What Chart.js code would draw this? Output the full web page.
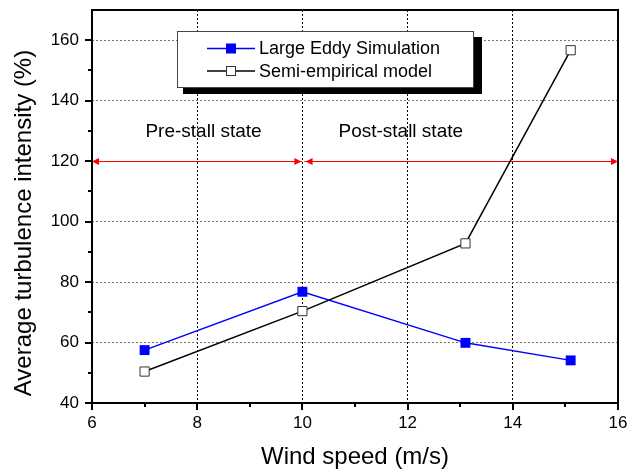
<!DOCTYPE html>
<html>
<head>
<meta charset="utf-8">
<script src="https://cdn.jsdelivr.net/npm/chart.js@4.4.1/dist/chart.umd.min.js"></script>
<style>
  html, body { margin: 0; padding: 0; background: #fff; }
  canvas { display: block; }
</style>
</head>
<body>
<canvas id="chart" width="637" height="473"></canvas>
<script>
// wind speed (m/s) vs average turbulence intensity (%)
const lesWind = [7, 10, 13.1, 15.1];
const lesValues = [57.5, 76.8, 59.9, 54.1];
const semiWind = [7, 10, 13.1, 15.1];
const semiValues = [50.4, 70.4, 92.8, 156.7];

const xTicks = [6, 8, 10, 12, 14, 16];
const yTicks = [40, 60, 80, 100, 120, 140, 160];

// stall regions (axis units)
const stallLevel = 120;
const preStall = [6, 9.98];
const postStall = [10.06, 16];
const stallLabels = ['Pre-stall state', 'Post-stall state'];
const stallLabelX = [8.12, 11.87];
const stallLabelY = 129.7;

const FONT = "'Liberation Sans', Arial, sans-serif";

function arrowHead(ctx, tipX, y, dir) {
  ctx.beginPath();
  ctx.moveTo(tipX, y);
  ctx.lineTo(tipX - dir * 7, y - 3.5);
  ctx.lineTo(tipX - dir * 7, y + 3.5);
  ctx.closePath();
  ctx.fill();
}

function marker(ctx, ds, cx, cy) {
  const s = 10;
  ctx.fillStyle = ds.pointBackgroundColor;
  ctx.fillRect(cx - s / 2, cy - s / 2, s, s);
  if (ds.pointBorderWidth > 0) {
    ctx.strokeStyle = ds.pointBorderColor;
    ctx.lineWidth = 1;
    ctx.strokeRect(cx - s / 2 + 0.5, cy - s / 2 + 0.5, s - 1, s - 1);
  }
}

const extras = {
  id: 'extras',
  beforeDatasetsDraw(chart) {
    const ctx = chart.ctx;
    const x = chart.scales.x, y = chart.scales.y;
    const yy = Math.round(y.getPixelForValue(stallLevel)) + 0.5;
    ctx.save();
    ctx.strokeStyle = '#ff0000';
    ctx.fillStyle = '#ff0000';
    ctx.lineWidth = 1;
    [preStall, postStall].forEach(r => {
      const x1 = x.getPixelForValue(r[0]), x2 = x.getPixelForValue(r[1]);
      ctx.beginPath();
      ctx.moveTo(x1, yy);
      ctx.lineTo(x2, yy);
      ctx.stroke();
      arrowHead(ctx, x1, yy, -1);
      arrowHead(ctx, x2, yy, 1);
    });
    ctx.fillStyle = '#000';
    ctx.font = '19px ' + FONT;
    ctx.textAlign = 'center';
    ctx.textBaseline = 'middle';
    stallLabels.forEach((t, i) => {
      ctx.fillText(t, x.getPixelForValue(stallLabelX[i]), y.getPixelForValue(stallLabelY));
    });

    // y axis title, sits a bit below the middle of the axis
    ctx.save();
    ctx.translate(24, 223);
    ctx.rotate(-Math.PI / 2);
    ctx.font = '24px ' + FONT;
    ctx.fillText(chart.options.scales.y.title.text, 0, 0);
    ctx.restore();
    ctx.restore();
  },
  afterDatasetsDraw(chart) {
    const ctx = chart.ctx;
    const a = chart.chartArea;
    const x = chart.scales.x, y = chart.scales.y;
    ctx.save();
    // frame
    ctx.strokeStyle = '#000';
    ctx.lineWidth = 2;
    ctx.strokeRect(a.left, a.top, a.right - a.left, a.bottom - a.top);
    // tick marks, outward
    ctx.beginPath();
    x.ticks.forEach(t => {
      const px = Math.round(x.getPixelForValue(t.value));
      const len = xTicks.includes(t.value) ? 7 : 4;
      ctx.moveTo(px, a.bottom);
      ctx.lineTo(px, a.bottom + len);
    });
    y.ticks.forEach(t => {
      if (t.value > 160) return;
      const py = Math.round(y.getPixelForValue(t.value));
      const len = yTicks.includes(t.value) ? 7 : 4;
      ctx.moveTo(a.left, py);
      ctx.lineTo(a.left - len, py);
    });
    ctx.stroke();

    // legend box with shadow
    const L = { left: 177, top: 31, right: 474, bottom: 88 };
    ctx.fillStyle = '#000';
    ctx.fillRect(L.left + 6, L.top + 6, L.right - L.left + 2, L.bottom - L.top);
    ctx.fillStyle = '#fff';
    ctx.fillRect(L.left, L.top, L.right - L.left, L.bottom - L.top);
    ctx.strokeStyle = '#444';
    ctx.lineWidth = 1;
    ctx.strokeRect(L.left + 0.5, L.top + 0.5, L.right - L.left - 1, L.bottom - L.top - 1);
    const rows = [48.5, 71];
    chart.data.datasets.forEach((ds, i) => {
      const ry = rows[i];
      ctx.strokeStyle = ds.borderColor;
      ctx.lineWidth = ds.borderWidth;
      ctx.beginPath();
      ctx.moveTo(207, ry);
      ctx.lineTo(255, ry);
      ctx.stroke();
      marker(ctx, ds, 231, ry);
      ctx.fillStyle = '#000';
      ctx.font = '18px ' + FONT;
      ctx.textAlign = 'left';
      ctx.textBaseline = 'middle';
      ctx.fillText(ds.label, 259, ry + 1);
    });
    ctx.restore();
  }
};

new Chart(document.getElementById('chart'), {
  type: 'line',
  data: {
    datasets: [
      {
        label: 'Large Eddy Simulation',
        data: lesWind.map((w, i) => ({ x: w, y: lesValues[i] })),
        borderColor: '#0000ff',
        backgroundColor: '#0000ff',
        borderWidth: 1.5,
        pointStyle: 'rect',
        pointRadius: 7,
        pointBorderWidth: 0,
        pointBackgroundColor: '#0000ff',
        pointBorderColor: '#0000ff'
      },
      {
        label: 'Semi-empirical model',
        data: semiWind.map((w, i) => ({ x: w, y: semiValues[i] })),
        borderColor: '#000000',
        backgroundColor: '#ffffff',
        borderWidth: 1.5,
        pointStyle: 'rect',
        pointRadius: 6.5,
        pointBorderWidth: 1,
        pointBackgroundColor: '#ffffff',
        pointBorderColor: '#333333'
      }
    ]
  },
  options: {
    responsive: false,
    animation: false,
    layout: { padding: { left: 0, top: 10, right: 19, bottom: 0 } },
    plugins: {
      legend: { display: false },
      tooltip: { enabled: false }
    },
    scales: {
      x: {
        type: 'linear',
        min: 6,
        max: 16,
        ticks: {
          stepSize: 1,
          autoSkip: false,
          maxRotation: 0,
          padding: 10,
          color: '#000',
          font: { size: 17, family: FONT },
          callback: v => xTicks.includes(v) ? v : ''
        },
        grid: {
          drawTicks: false,
          lineWidth: 1,
          color: c => (c.tick && c.tick.value > 6 && c.tick.value < 16 && xTicks.includes(c.tick.value)) ? '#000' : 'rgba(0,0,0,0)'
        },
        border: { display: false, dash: [2, 2] },
        title: {
          display: true,
          text: 'Wind speed (m/s)',
          color: '#000',
          font: { size: 24, family: FONT },
          padding: { top: 0, bottom: 1 }
        },
        afterFit: s => { s.height = 70; s.paddingLeft = 0; s.paddingRight = 0; }
      },
      y: {
        min: 40,
        max: 170,
        ticks: {
          stepSize: 10,
          autoSkip: false,
          padding: 13,
          color: '#000',
          font: { size: 17, family: FONT },
          callback: v => yTicks.includes(v) ? v : ''
        },
        grid: {
          drawTicks: false,
          lineWidth: 1,
          color: c => (c.tick && c.tick.value > 40 && yTicks.includes(c.tick.value)) ? '#777' : 'rgba(0,0,0,0)'
        },
        border: { display: false, dash: [2, 2] },
        title: {
          display: false,
          text: 'Average turbulence intensity (%)'
        },
        afterFit: s => { s.width = 92; s.paddingTop = 0; s.paddingBottom = 0; }
      }
    }
  },
  plugins: [extras]
});
</script>
</body>
</html>
